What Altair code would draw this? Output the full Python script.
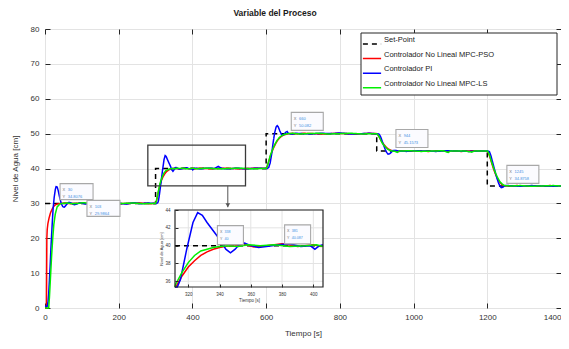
import altair as alt
import pandas as pd

# ---------------- data ----------------
series_names = ["Set-Point", "Controlador No Lineal MPC-PSO", "Controlador PI", "Controlador No Lineal MPC-LS"]
series_colors = ["#000000", "#ff0000", "#0000ff", "#00f000"]
series_dash = [[5, 4], [1, 0], [1, 0], [1, 0]]

sp_t = [0, 300, 300, 600, 600, 900, 900, 1200, 1200, 1400]
sp_y = [30, 30, 40, 40, 50, 50, 45, 45, 35, 35]

pso_t = [0, 4, 5, 6, 8, 11, 15, 20, 25, 30, 36, 45, 55, 70, 85, 100, 120, 140, 160, 180, 200, 230, 260, 285,
         300, 302, 305, 308, 312, 316, 320, 324, 328, 332, 336, 340, 345, 350, 356, 362, 370, 380, 390, 400,
         405, 412, 425, 450, 480, 510, 540, 570, 600, 603, 607, 611, 615, 620, 625, 630, 636, 642, 650, 660,
         670, 685, 700, 730, 760, 790, 820, 850, 880, 900, 903, 907, 911, 915, 920, 925, 930, 936, 942, 950,
         960, 980, 1010, 1040, 1070, 1100, 1130, 1160, 1190, 1200, 1203, 1207, 1211, 1215, 1219, 1223, 1227,
         1231, 1235, 1240, 1245, 1250, 1260, 1280, 1310, 1340, 1370, 1400]
pso_y = [0, 0, 20, 22.5, 24.3, 25.8, 27.3, 28.5, 29.3, 29.7, 29.9, 30.0, 30.1, 29.9, 30.0, 30.1, 29.9, 30.1, 30.0,
         30.2, 29.9, 30.0, 30.1, 29.9,
         30.0, 30.5, 31.9, 33.4, 35.3, 36.6, 37.6, 38.3, 38.9, 39.3, 39.6, 39.8, 39.95, 40.0, 40.15, 39.85, 40.0,
         40.2, 39.9, 40.1,
         39.9, 40.0, 40.1, 39.9, 40.1, 40.0, 39.9, 40.1, 40.0, 40.6, 42.0, 43.4, 44.6, 45.9, 47.0, 47.9, 48.7,
         49.3, 49.7, 49.95,
         50.1, 49.9, 50.1, 50.0, 49.9, 50.1, 50.0, 49.9, 50.1, 50.0, 49.7, 49.0, 48.2, 47.5, 46.8, 46.2, 45.7,
         45.3, 45.1, 45.0,
         44.9, 45.1, 45.0, 44.9, 45.1, 45.0, 44.9, 45.1, 45.0, 44.9, 44.5, 43.3, 41.9, 40.5, 39.3, 38.2, 37.3,
         36.5, 35.9, 35.4, 35.1, 35.0, 34.9, 35.1, 35.0, 34.9, 35.1, 35.0]

pi_t = [0, 6, 8, 10, 12, 14, 16, 18, 20, 22, 25, 28, 30, 33, 36, 40, 44, 48, 52, 56, 60, 65, 70, 75, 80, 88, 95,
        103, 110, 120, 135, 150, 165, 180, 200, 220, 240, 260, 280, 295, 303, 306, 308, 311, 313, 315, 319, 323,
        326, 329, 332, 335, 338, 341, 344, 347, 350, 353, 356, 360, 365, 370, 378, 385, 392, 398, 401, 404, 410,
        420, 440, 460, 470, 480, 500, 520, 540, 560, 580, 595, 603, 607, 611, 615, 619, 623, 627, 630, 633, 637,
        641, 645, 649, 653, 657, 660, 666, 672, 680, 700, 720, 750, 780, 800, 830, 860, 880, 895, 903, 907, 911,
        915, 919, 923, 927, 931, 935, 940, 944, 950, 960, 980, 1000, 1030, 1060, 1090, 1120, 1150, 1180, 1195,
        1202, 1206, 1210, 1214, 1218, 1222, 1226, 1230, 1234, 1238, 1242, 1245, 1250, 1258, 1270, 1290, 1320,
        1350, 1380, 1400]
pi_y = [0.5, 0.5, 1.5, 4, 8, 12, 17, 21, 25, 28.5, 31.8, 34.0, 34.8076, 34.7, 33.6, 31.6, 30.0, 29.1, 28.9, 29.3,
        29.9, 30.3, 30.2, 29.8, 29.6, 29.9, 30.2,
        29.9864, 29.8, 30.1, 29.9, 30.2, 29.8, 30.1, 30.0, 29.8, 30.2, 29.9, 30.1, 30.0, 30.0, 30.2, 30.8, 33.0,
        34.6, 36.2, 39.6, 42.6,
        43.7, 43.4, 42.6, 41.9, 41.2, 40.5, 39.6, 39.2, 39.6, 40.2, 40.3, 40.0, 39.8, 39.9, 40.1, 40.2, 39.9, 40.0,
        39.6, 40.0, 40.1,
        39.9, 40.1, 40.0, 40.6, 40.0, 39.9, 40.1, 39.9, 40.0, 40.1, 40.0, 40.0, 40.3, 41.6, 44.2, 47.4, 50.2, 51.9,
        52.3, 51.9, 50.8,
        49.9, 49.5, 49.8, 50.4, 50.6, 50.082, 49.9, 49.9, 50.1, 50.0, 49.9, 50.1, 50.0, 50.2, 49.9, 50.0, 50.1,
        50.0, 50.0, 49.8, 49.0,
        47.8, 46.6, 45.5, 44.6, 44.1, 44.2, 44.7, 45.1573, 45.2, 45.0, 44.9, 45.1, 45.0, 44.9, 45.1, 45.0, 44.9,
        45.0, 45.0,
        45.0, 44.8, 43.6, 42.0, 40.4, 38.8, 37.3, 36.0, 35.0, 34.5, 34.6, 34.8758, 35.1, 35.1, 35.0, 34.9, 35.1,
        35.0, 34.9, 35.0]

ls_t = [0, 10, 12, 15, 18, 21, 24, 28, 33, 40, 48, 60, 75, 90, 105, 125, 145, 165, 190, 215, 240, 265, 290, 300,
        302, 305, 308, 312, 316, 320, 324, 328, 332, 336, 340, 345, 352, 358, 366, 375, 385, 395, 402, 410, 420,
        440, 470, 500, 530, 560, 590, 600, 603, 607, 611, 615, 620, 625, 630, 636, 642, 650, 660, 672, 690, 710,
        740, 770, 800, 830, 860, 890, 900, 903, 907, 911, 915, 920, 925, 930, 936, 942, 950, 956, 962, 990, 1020,
        1050, 1080, 1094, 1100, 1140, 1158, 1165, 1195, 1200, 1203, 1207, 1211, 1215, 1219, 1223, 1227, 1231,
        1235, 1240, 1245, 1250, 1265, 1290, 1320, 1350, 1380, 1400]
ls_y = [0, 0, 3, 9, 15, 20, 24, 27, 29, 29.8, 30.0, 30.1, 29.9, 30.0, 30.2, 29.9, 30.0, 30.1, 29.9, 30.0, 30.1,
        29.9, 30.0, 30.0,
        30.7, 32.1, 33.7, 35.7, 37.0, 38.1, 38.9, 39.4, 39.6, 39.8, 39.9, 40.0, 39.9, 40.1, 40.0, 40.1, 39.9, 40.0,
        40.1, 39.9, 40.0,
        40.1, 39.9, 40.0, 40.1, 39.9, 40.0, 40.0, 40.7, 42.1, 43.6, 44.8, 46.1, 47.2, 48.1, 48.9, 49.4, 49.8, 50.0,
        50.1, 49.9, 50.0,
        50.1, 49.9, 50.0, 50.1, 49.9, 50.0, 50.0, 49.7, 49.0, 48.1, 47.3, 46.6, 46.0, 45.5, 45.2, 45.0, 44.9, 44.6,
        45.0, 45.1, 44.9,
        45.0, 45.1, 44.6, 45.0, 45.0, 44.7, 45.0, 45.0, 45.0, 44.6, 43.5, 42.1, 40.8, 39.6, 38.5, 37.6, 36.8,
        36.1, 35.6, 35.2, 35.05, 35.0, 35.1, 34.9, 35.0, 35.1, 35.0]

# data tips (main plot)
tip_up_x = [660, 944, 1245]
tip_up_y = [50.082, 45.1573, 34.8758]
tip_dn_x = [30, 103]
tip_dn_y = [34.8076, 29.9864]
# data tips (inset)
tip_in_x = [338, 381]
tip_in_y = [40, 40.087]

# zoom rectangle and arrow (annotation in data units)
zoom_x = [279, 544]
zoom_y = [35.0, 46.7]
arrow_x = [496]
arrow_y = [35.0, 28.9]

# inset limits and ticks
inset_xdom = [311.5, 406.2]
inset_ydom = [35.36, 44]
inset_xticks = [320, 340, 360, 380, 400]
inset_yticks = [36, 38, 40, 42, 44]

main_xticks = [0, 200, 400, 600, 800, 1000, 1200, 1400]
main_yticks = [0, 10, 20, 30, 40, 50, 60, 70, 80]

# ---------------- tables ----------------
rows = []
for name, ts, ys in zip(series_names, [sp_t, pso_t, pi_t, ls_t], [sp_y, pso_y, pi_y, ls_y]):
    for i, (t, y) in enumerate(zip(ts, ys)):
        rows.append({"serie": name, "t": t, "y": y, "i": i})
lines = pd.DataFrame(rows)


def tip_df(xs, ys):
    return pd.DataFrame({"x": xs, "y": ys, "lab": ["X\nY"] * len(xs),
                         "val": [f"{x:g}\n{y:g}" for x, y in zip(xs, ys)]})


FONT = "Liberation Sans"
W, H = 516, 279
AX = "#262626"
GRID = "#e3e3e3"

main_x = alt.Scale(domain=[0, 1400], nice=False, zero=False)
main_y = alt.Scale(domain=[0, 80], nice=False, zero=False)
color_scale = alt.Scale(domain=series_names, range=series_colors)
dash_scale = alt.Scale(domain=series_names, range=series_dash)

legend = alt.Legend(title=None, orient="none", legendX=316, legendY=4, padding=3,
                    labelFont=FONT, labelFontSize=7.5, labelColor="#1a1a1a",
                    labelLimit=400, labelOffset=4, labelBaseline="bottom", symbolType="M-1.3,0H1.3",
                    symbolSize=196, symbolStrokeWidth=1.5, rowPadding=3.6)

x_axis = alt.Axis(values=main_xticks, orient="bottom", offset=-5, tickSize=5, tickColor=AX, domain=False,
                  grid=True, gridColor=GRID, labelFlush=False,
                  labelAlign={"condition": {"test": "datum.value >= 1400", "value": "right"}, "value": "center"},
                  labelPadding=5, labelFont=FONT, labelFontSize=8,
                  labelColor="#333333", format="d", title="Tiempo [s]", titleFont=FONT, titleFontSize=8,
                  titleFontWeight="normal", titleColor="#333333", titlePadding=8)
y_axis = alt.Axis(values=main_yticks, orient="left", offset=-5, tickSize=5, tickColor=AX, domain=False,
                  grid=True, gridColor=GRID, labelPadding=6, labelFont=FONT, labelFontSize=8,
                  labelColor="#333333", title="Nivel de Agua [cm]", titleFont=FONT, titleFontSize=8,
                  titleFontWeight="normal", titleColor="#333333", titlePadding=11)


def main_line(name, first=False):
    return alt.Chart(lines).transform_filter(alt.datum.serie == name).mark_line(strokeWidth=1.5).encode(
        x=alt.X("t:Q", scale=main_x, axis=x_axis if first else None),
        y=alt.Y("y:Q", scale=main_y, axis=y_axis if first else None),
        color=alt.Color("serie:N", scale=color_scale, legend=legend),
        strokeDash=alt.StrokeDash("serie:N", scale=dash_scale, legend=legend),
        order=alt.Order("i:Q"),
    )


def tip_layers(df, xs, ys, dx0, dx1, dy0, dy1, fs, lh):
    base = alt.Chart(df)
    enc = dict(x=alt.X("x:Q", scale=xs, axis=None), y=alt.Y("y:Q", scale=ys, axis=None))
    box = base.mark_rect(fill="#fbfbff", stroke="#a8a8a8", strokeWidth=1.1, xOffset=dx0, x2Offset=dx1,
                         yOffset=dy0, y2Offset=dy1).encode(x2="x:Q", y2="y:Q", **enc)
    lab = base.mark_text(align="left", baseline="top", dx=dx0 + 2.5, dy=dy0 + 4.5, fontSize=fs, lineHeight=lh,
                         lineBreak="\n", color="#707070", font=FONT).encode(text="lab:N", **enc)
    val = base.mark_text(align="left", baseline="top", dx=dx0 + 2.5 + fs * 1.3, dy=dy0 + 4.5, fontSize=fs,
                         lineHeight=lh, lineBreak="\n", color="#3d8fe3", font=FONT).encode(text="val:N", **enc)
    return [box, lab, val]


one = pd.DataFrame({"k": [0]})
legend_frame = alt.Chart(one).mark_rect(fill="white", stroke=AX, strokeWidth=1).encode(
    x=alt.value(316), x2=alt.value(512), y=alt.value(4), y2=alt.value(66))

zoom_df = pd.DataFrame({"x0": [zoom_x[0]], "x1": [zoom_x[1]], "y0": [zoom_y[0]], "y1": [zoom_y[1]]})
zoom_rect = alt.Chart(zoom_df).mark_rect(fill="white", fillOpacity=0, stroke="#3a3a3a", strokeWidth=1.3).encode(
    x=alt.X("x0:Q", scale=main_x, axis=None), x2="x1:Q",
    y=alt.Y("y0:Q", scale=main_y, axis=None), y2="y1:Q")
arrow_df = pd.DataFrame({"x": arrow_x, "y0": [arrow_y[0]], "y1": [arrow_y[1]]})
arrow_line = alt.Chart(arrow_df).mark_rule(color="#555555", strokeWidth=1).encode(
    x=alt.X("x:Q", scale=main_x, axis=None), y=alt.Y("y0:Q", scale=main_y, axis=None), y2="y1:Q")
arrow_head = alt.Chart(arrow_df).mark_point(shape="triangle-down", filled=True, color="#555555", size=22,
                                            opacity=1, yOffset=-2).encode(
    x=alt.X("x:Q", scale=main_x, axis=None), y=alt.Y("y1:Q", scale=main_y, axis=None))

# inward ticks on the top and right edges
sp_df = pd.DataFrame({"t": sp_t, "y": sp_y})
tick_layer = alt.Chart(sp_df).mark_point(opacity=0).encode(
    x=alt.X("t:Q", scale=main_x, axis=alt.Axis(orient="top", offset=-5, tickSize=5, tickColor=AX, labels=False,
                                                domain=False, grid=False, title=None, values=main_xticks)),
    y=alt.Y("y:Q", scale=main_y, axis=alt.Axis(orient="right", offset=-5, tickSize=5, tickColor=AX, labels=False,
                                                domain=False, grid=False, title=None, values=main_yticks)),
)

# ---------------- inset ----------------
IX0, IX1 = 130, 278
IY0, IY1 = 258, 181
in_x = alt.Scale(domain=inset_xdom, range=[IX0, IX1], clamp=True, nice=False, zero=False)
in_y = alt.Scale(domain=inset_ydom, range=[IY0, IY1], clamp=True, nice=False, zero=False)

in_box = pd.DataFrame({"x0": [inset_xdom[0]], "x1": [inset_xdom[1]], "y0": [inset_ydom[0]], "y1": [inset_ydom[1]]})
in_xax = alt.Axis(orient="bottom", offset=IY0 - H - 3, tickSize=3, tickColor=AX, values=inset_xticks,
                  domain=False, grid=False, labelFlush=False, labelPadding=4, labelFont=FONT, labelFontSize=4.5,
                  labelColor="#333333", title="Tiempo [s]", titleFont=FONT, titleFontSize=4.5,
                  titleFontWeight="normal", titleColor="#333333", titlePadding=2, zindex=1)
in_yax = alt.Axis(orient="left", offset=-(IX0 + 3), tickSize=3, tickColor=AX, values=inset_yticks,
                  domain=False, grid=False, labelPadding=5, labelFont=FONT, labelFontSize=4.5,
                  labelColor="#333333", title="Nivel de Agua [cm]", titleFont=FONT, titleFontSize=4,
                  titleFontWeight="normal", titleColor="#333333", titlePadding=1.5, zindex=1)

in_bg = alt.Chart(in_box).mark_rect(fill="white").encode(
    x=alt.X("x0:Q", scale=in_x, axis=in_xax), x2="x1:Q",
    y=alt.Y("y0:Q", scale=in_y, axis=in_yax), y2="y1:Q")
in_frame = alt.Chart(in_box).mark_rect(fill="white", fillOpacity=0, stroke=AX, strokeWidth=1.2).encode(
    x=alt.X("x0:Q", scale=in_x, axis=None), x2="x1:Q",
    y=alt.Y("y0:Q", scale=in_y, axis=None), y2="y1:Q")

gx = pd.DataFrame({"v": inset_xticks, "y0": inset_ydom[0], "y1": inset_ydom[1]})
gy = pd.DataFrame({"v": inset_yticks, "x0": inset_xdom[0], "x1": inset_xdom[1]})
in_gx = alt.Chart(gx).mark_rule(color=GRID, strokeWidth=1).encode(
    x=alt.X("v:Q", scale=in_x, axis=None), y=alt.Y("y0:Q", scale=in_y, axis=None), y2="y1:Q")
in_gy = alt.Chart(gy).mark_rule(color=GRID, strokeWidth=1).encode(
    y=alt.Y("v:Q", scale=in_y, axis=None), x=alt.X("x0:Q", scale=in_x, axis=None), x2="x1:Q")


def inset_line(name, color, dash=None):
    if name == "Set-Point":
        flt = (alt.datum.serie == name) & (alt.datum.y == 40)
    else:
        flt = (alt.datum.serie == name) & (alt.datum.t >= 305) & (alt.datum.t <= 412)
    kw = dict(strokeWidth=1.5, color=color)
    if dash:
        kw["strokeDash"] = dash
    return alt.Chart(lines).transform_filter(flt).mark_line(**kw).encode(
        x=alt.X("t:Q", scale=in_x, axis=None), y=alt.Y("y:Q", scale=in_y, axis=None), order=alt.Order("i:Q"))


layers = [
    legend_frame,
    main_line(series_names[0], first=True),
    main_line(series_names[1]),
    main_line(series_names[2]),
    main_line(series_names[3]),
    zoom_rect, arrow_line, arrow_head,
    *tip_layers(tip_df(tip_up_x, tip_up_y), main_x, main_y, 3, 35, -21, -3, 4, 6.7),
    *tip_layers(tip_df(tip_dn_x, tip_dn_y), main_x, main_y, 4, 37, -3, 13, 4, 6.7),
    tick_layer,
    in_bg, in_gx, in_gy,
    inset_line(series_names[0], series_colors[0], series_dash[0]),
    inset_line(series_names[1], series_colors[1]),
    inset_line(series_names[2], series_colors[2]),
    inset_line(series_names[3], series_colors[3]),
    in_frame,
    *tip_layers(tip_df(tip_in_x, tip_in_y), in_x, in_y, 1, 27, -20, -1, 3.6, 6.5),
]

chart = alt.layer(*layers).resolve_scale(
    x="independent", y="independent"
).properties(
    width=W, height=H,
    title=alt.TitleParams("Variable del Proceso", font=FONT, fontSize=8.5, fontWeight="bold", color="#1a1a1a",
                          anchor="middle", frame="group", dx=-28, offset=-1, baseline="bottom"),
    padding={"left": 37, "top": 21, "right": 0, "bottom": 32},
    autosize=alt.AutoSizeParams(type="none"),
).configure_view(stroke=AX, strokeWidth=1.5, fill="white").configure(background="white")

chart.save("out.html", embed_options={"renderer": "svg", "actions": False})
